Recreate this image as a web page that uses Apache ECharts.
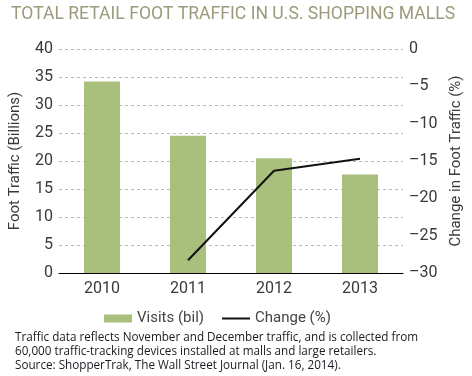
<!DOCTYPE html>
<html>
<head>
<meta charset="utf-8">
<script src="https://cdn.jsdelivr.net/npm/echarts@6/dist/echarts.min.js"></script>
<style>
  html, body { margin: 0; padding: 0; background: #fff; }
  #main { width: 472px; height: 376px; }
</style>
</head>
<body>
<div id="main"></div>
<script>
const years = ['2010', '2011', '2012', '2013'];
const visits = [34.2, 24.5, 20.5, 17.6];
const change = [null, -28.3, -16.3, -14.7];
const notes = [
  'Traffic data reflects November and December traffic, and is collected from',
  '60,000 traffic-tracking devices installed at malls and large retailers.',
  'Source: ShopperTrak, The Wall Street Journal (Jan. 16, 2014).'
];

const chart = echarts.init(document.getElementById('main'), null, { renderer: 'canvas' });

const labelFont = { color: '#3a3a3a', fontSize: 16, fontFamily: 'Roboto' };
const nameFont = { color: '#3a3a3a', fontSize: 15, fontFamily: 'Roboto' };

const option = {
  backgroundColor: '#fff',
  animation: false,
  title: {
    text: 'TOTAL RETAIL FOOT TRAFFIC IN U.S. SHOPPING MALLS',
    left: 6,
    top: 1,
    textStyle: { color: '#9c9a7a', fontSize: 17.6, fontWeight: 'normal', fontFamily: 'Roboto' }
  },
  legend: {
    top: 306,
    left: 99,
    itemGap: 18,
    itemWidth: 28,
    itemHeight: 8,
    textStyle: { color: '#444', fontSize: 15, fontFamily: 'Roboto' },
    data: [
      { name: 'Visits (bil)', icon: 'rect' },
      { name: 'Change (%)', icon: 'path://M0,0 L28,0 L28,2 L0,2 Z' }
    ]
  },
  graphic: notes.map((t, i) => ({
    type: 'text',
    left: 15,
    top: 332 + i * 14,
    style: { text: t, fill: '#1a1a22', fontSize: 11.7, fontFamily: 'Open Sans' }
  })),
  grid: { left: 49, right: 62, top: 49, bottom: 103 },
  xAxis: {
    type: 'category',
    data: years,
    axisLine: { lineStyle: { color: '#000', width: 1 } },
    axisTick: { show: false },
    axisLabel: Object.assign({ margin: 8 }, labelFont)
  },
  yAxis: [
    {
      type: 'value',
      name: 'Foot Traffic (Billions)',
      nameLocation: 'middle',
      nameGap: 36,
      nameTextStyle: nameFont,
      min: 0, max: 40, interval: 5,
      axisLine: { show: false },
      axisTick: { show: false },
      axisLabel: Object.assign({ margin: 6 }, labelFont),
      splitLine: { lineStyle: { color: '#bbb', type: [3, 3] } }
    },
    {
      type: 'value',
      name: 'Change in Foot Traffic (%)',
      nameLocation: 'middle',
      nameGap: 46,
      nameRotate: 90,
      nameTextStyle: nameFont,
      min: -30, max: 0, interval: 5,
      axisLine: { show: false },
      axisTick: { show: false },
      splitLine: { show: false },
      axisLabel: Object.assign({
        margin: 6,
        formatter: v => String(v).replace('-', '\u2013')
      }, labelFont)
    }
  ],
  series: [
    {
      name: 'Visits (bil)',
      type: 'bar',
      data: visits,
      barWidth: 36,
      itemStyle: { color: '#a8c07b' }
    },
    {
      name: 'Change (%)',
      type: 'line',
      yAxisIndex: 1,
      data: change,
      symbol: 'none',
      lineStyle: { color: '#111', width: 2 },
      itemStyle: { color: '#111' }
    }
  ]
};

chart.setOption(option);
</script>
</body>
</html>
